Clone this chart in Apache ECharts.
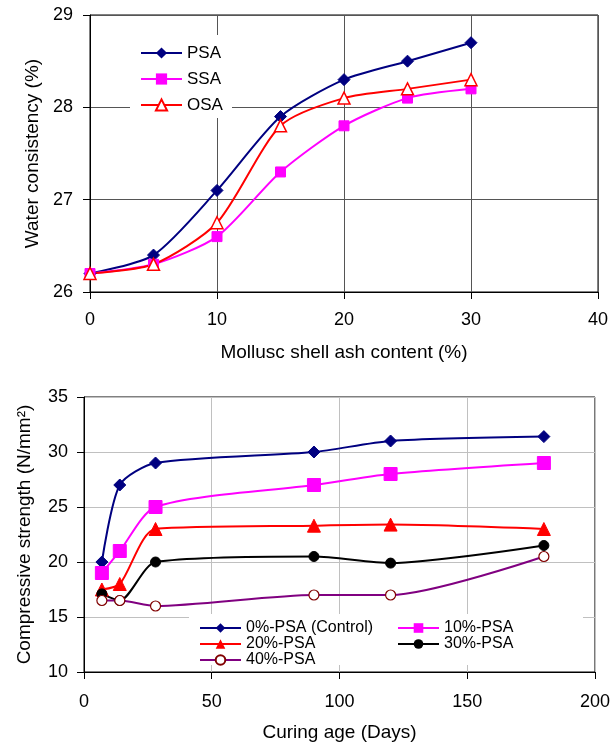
<!DOCTYPE html>
<html>
<head>
<meta charset="utf-8">
<script src="https://cdn.jsdelivr.net/npm/echarts@6/dist/echarts.min.js"></script>
<style>
  html, body { margin: 0; padding: 0; background: #fff; }
  #chart { width: 613px; height: 745px; }
</style>
</head>
<body>
<div id="chart"></div>
<script>
// top chart: water consistency vs ash content
const ashContent = [0, 5, 10, 15, 20, 25, 30];
const psaWater = [26.2, 26.4, 27.1, 27.9, 28.3, 28.5, 28.7];
const ssaWater = [26.2, 26.3, 26.6, 27.3, 27.8, 28.1, 28.2];
const osaWater = [26.2, 26.3, 26.75, 27.8, 28.1, 28.2, 28.3];

// bottom chart: compressive strength vs curing age
const curingDays = [7, 14, 28, 90, 120, 180];
const psa0 = [20, 27, 29, 30, 31, 31.4];
const psa10 = [19, 21, 25, 27, 28, 29];
const psa20 = [17.5, 18, 23, 23.3, 23.4, 23];
const psa30 = [17.1, 16.5, 20, 20.5, 19.9, 21.5];
const psa40 = [16.5, 16.5, 16, 17, 17, 20.5];

const font = 'Liberation Sans, Arial, sans-serif';
const pairs = (xs, ys) => xs.map((x, i) => [x, ys[i]]);

const chart = echarts.init(document.getElementById('chart'));

function lineSeries(name, xi, yi, xs, ys, color, symbol, size, extra) {
  return Object.assign({
    name, type: 'line', xAxisIndex: xi, yAxisIndex: yi,
    data: pairs(xs, ys),
    smooth: 0.25,
    symbol, symbolSize: size,
    lineStyle: { color, width: 2 },
    itemStyle: { color, borderColor: color },
    emphasis: { disabled: true }
  }, extra || {});
}

const tickText = { color: '#000', fontFamily: font, fontSize: 18 };
const titleText = { color: '#000', fontFamily: font, fontSize: 19 };

chart.setOption({
  animation: false,
  textStyle: { fontFamily: font, color: '#000' },
  grid: [
    { left: 90, top: 15, width: 508, height: 277, show: true, borderColor: '#000', borderWidth: 1 },
    { left: 84, top: 397, width: 512, height: 275, show: true, borderColor: '#000', borderWidth: 1 }
  ],
  // white boxes behind the legends, hiding grid lines like the original
  graphic: [
    { type: 'rect', z: 5, shape: { x: 130, y: 35, width: 102, height: 83 }, style: { fill: '#fff' } },
    { type: 'rect', z: 5, shape: { x: 189, y: 614, width: 394, height: 51 }, style: { fill: '#fff' } }
  ],
  legend: [
    {
      data: ['PSA', 'SSA', 'OSA'],
      orient: 'vertical', left: 135, top: 40, z: 10,
      itemWidth: 41, itemHeight: 14, itemGap: 8, padding: [4, 5],
      textStyle: { fontSize: 17, lineHeight: 18, color: '#000', fontFamily: font }
    },
    {
      data: ['0%-PSA (Control)', '20%-PSA', '40%-PSA'],
      orient: 'vertical', left: 194, top: 615, z: 10,
      itemWidth: 41, itemHeight: 12, itemGap: 0, padding: [5, 5],
      textStyle: { fontSize: 16, lineHeight: 13, color: '#000', fontFamily: font }
    },
    {
      data: ['10%-PSA', '30%-PSA'],
      orient: 'vertical', left: 392, top: 615, z: 10,
      itemWidth: 41, itemHeight: 12, itemGap: 0, padding: [5, 5],
      textStyle: { fontSize: 16, lineHeight: 13, color: '#000', fontFamily: font }
    }
  ],
  xAxis: [
    {
      type: 'value', gridIndex: 0, min: 0, max: 40, interval: 10,
      name: 'Mollusc shell ash content (%)', nameLocation: 'middle', nameGap: 51,
      nameTextStyle: titleText,
      axisLine: { onZero: false, lineStyle: { color: '#000' } },
      axisTick: { length: 7, lineStyle: { color: '#000' } },
      axisLabel: Object.assign({ margin: 19 }, tickText),
      splitLine: { show: true, lineStyle: { color: '#555' } }
    },
    {
      type: 'value', gridIndex: 1, min: 0, max: 200, interval: 50,
      name: 'Curing age (Days)', nameLocation: 'middle', nameGap: 51,
      nameTextStyle: titleText,
      axisLine: { onZero: false, lineStyle: { color: '#000' } },
      axisTick: { length: 7, lineStyle: { color: '#000' } },
      axisLabel: Object.assign({ margin: 21 }, tickText),
      splitLine: { show: true, lineStyle: { color: '#c0c0c0' } }
    }
  ],
  yAxis: [
    {
      type: 'value', gridIndex: 0, min: 26, max: 29, interval: 1,
      name: 'Water consistency (%)', nameLocation: 'middle', nameGap: 47,
      nameTextStyle: titleText,
      axisLine: { show: true, onZero: false, lineStyle: { color: '#000' } },
      axisTick: { show: true, length: 7, lineStyle: { color: '#000' } },
      axisLabel: Object.assign({ margin: 17 }, tickText),
      splitLine: { show: true, lineStyle: { color: '#555' } }
    },
    {
      type: 'value', gridIndex: 1, min: 10, max: 35, interval: 5,
      name: 'Compressive strength (N/mm²)', nameLocation: 'middle', nameGap: 50,
      nameTextStyle: titleText,
      axisLine: { show: true, onZero: false, lineStyle: { color: '#000' } },
      axisTick: { show: true, length: 7, lineStyle: { color: '#000' } },
      axisLabel: Object.assign({ margin: 16 }, tickText),
      splitLine: { show: true, lineStyle: { color: '#c0c0c0' } }
    }
  ],
  series: [
    lineSeries('PSA', 0, 0, ashContent, psaWater, '#000080', 'diamond', 12),
    lineSeries('SSA', 0, 0, ashContent, ssaWater, '#ff00ff', 'rect', 10),
    lineSeries('OSA', 0, 0, ashContent, osaWater, '#ff0000', 'triangle', 12,
      { itemStyle: { color: '#fff', borderColor: '#ff0000', borderWidth: 1.5 } }),
    lineSeries('0%-PSA (Control)', 1, 1, curingDays, psa0, '#000080', 'diamond', 12),
    lineSeries('10%-PSA', 1, 1, curingDays, psa10, '#ff00ff', 'rect', 13),
    lineSeries('20%-PSA', 1, 1, curingDays, psa20, '#ff0000', 'triangle', 13),
    lineSeries('30%-PSA', 1, 1, curingDays, psa30, '#000000', 'circle', 10),
    lineSeries('40%-PSA', 1, 1, curingDays, psa40, '#800080', 'circle', 10,
      { itemStyle: { color: '#fff', borderColor: '#800000', borderWidth: 1.2 } })
  ]
});
</script>
</body>
</html>
